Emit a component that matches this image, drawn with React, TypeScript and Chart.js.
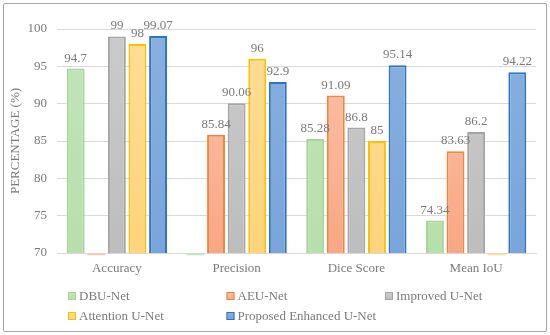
import React, { useEffect, useRef } from "react";
import { Chart, registerables } from "chart.js";

Chart.register(...registerables);

const categories = ["Accuracy", "Precision", "Dice Score", "Mean IoU"];
const seriesNames = ["DBU-Net", "AEU-Net", "Improved U-Net", "Attention U-Net", "Proposed Enhanced U-Net"];
const dbuNet = [94.7, 70, 85.28, 74.34];
const aeuNet = [70, 85.84, 91.09, 83.63];
const improvedUNet = [99, 90.06, 86.8, 86.2];
const attentionUNet = [98, 96, 85, 70];
const proposedUNet = [99.07, 92.9, 95.14, 94.22];
const yTicks = [70, 75, 80, 85, 90, 95, 100];

const FONT = "'Liberation Serif', 'Times New Roman', serif";
const TEXT = "#7a7a7a";

const styles = [
  { top: "#c3e5b9", bottom: "#b7dfab", border: "#a6d596" },
  { top: "#fcc4ac", bottom: "#f8a783", border: "#f4843c" },
  { top: "#cbcbcb", bottom: "#bdbdbd", border: "#a5a5a5" },
  { top: "#fedd96", bottom: "#fed47c", border: "#ffc000" },
  { top: "#88b0e0", bottom: "#7aa5da", border: "#2e75c6" },
];

const seriesValues = [dbuNet, aeuNet, improvedUNet, attentionUNet, proposedUNet];

const labelPlugin = {
  id: "valueLabels",
  afterDatasetsDraw(chart: any) {
    const ctx = chart.ctx;
    const yScale = chart.scales.y;
    ctx.save();
    ctx.font = `13px ${FONT}`;
    ctx.fillStyle = TEXT;
    ctx.textAlign = "center";
    ctx.textBaseline = "alphabetic";
    chart.data.datasets.forEach((ds: any, di: number) => {
      const meta = chart.getDatasetMeta(di);
      meta.data.forEach((bar: any, i: number) => {
        const v = ds.data[i];
        if (v <= yScale.min) {
          ctx.strokeStyle = styles[di].top;
          ctx.lineWidth = 1.5;
          ctx.beginPath();
          ctx.moveTo(bar.x - bar.width / 2, yScale.bottom + 1.5);
          ctx.lineTo(bar.x + bar.width / 2, yScale.bottom + 1.5);
          ctx.stroke();
          return;
        }
        ctx.fillText(String(v), bar.x, bar.y - 7);
      });
    });
    ctx.restore();
  },
};

const legendPlugin = {
  id: "gridLegend",
  afterDraw(chart: any) {
    const ctx = chart.ctx;
    const area = chart.chartArea;
    const colW = 158.5;
    const x0 = area.left + 11;
    const rows = [296, 316];
    ctx.save();
    ctx.font = `13px ${FONT}`;
    ctx.textBaseline = "middle";
    ctx.textAlign = "left";
    seriesNames.forEach((name, i) => {
      const col = i % 3;
      const row = Math.floor(i / 3);
      const x = x0 + col * colW;
      const y = rows[row];
      const g = ctx.createLinearGradient(0, y - 4, 0, y + 4);
      g.addColorStop(0, styles[i].top);
      g.addColorStop(1, styles[i].bottom);
      ctx.fillStyle = g;
      ctx.fillRect(x, y - 4, 8, 8);
      ctx.strokeStyle = styles[i].border;
      ctx.lineWidth = 1;
      ctx.strokeRect(x + 0.5, y - 3.5, 7, 7);
      ctx.fillStyle = TEXT;
      ctx.fillText(name, x + 11, y + 0.5);
    });
    ctx.restore();
  },
};

export default function App() {
  const ref = useRef<HTMLCanvasElement>(null);
  useEffect(() => {
    document.body.style.margin = "0";
    const canvas = ref.current!;
    const chart = new Chart(canvas, {
      type: "bar",
      data: {
        labels: categories,
        datasets: seriesNames.map((name, i) => ({
          label: name,
          data: seriesValues[i],
          backgroundColor: (c: any) => {
            const area = c.chart.chartArea;
            if (!area) return styles[i].top;
            const g = c.chart.ctx.createLinearGradient(0, area.top, 0, area.bottom);
            g.addColorStop(0, styles[i].top);
            g.addColorStop(1, styles[i].bottom);
            return g;
          },
          borderColor: styles[i].border,
          borderWidth: 2,
          borderSkipped: "start",
          categoryPercentage: 0.86,
          barPercentage: 0.87,
        })),
      },
      options: {
        animation: false,
        responsive: false,
        maintainAspectRatio: false,
        layout: { padding: { top: 29, right: 14, left: 0, bottom: 0 } },
        plugins: {
          legend: { display: false },
          tooltip: { enabled: false },
        },
        scales: {
          x: {
            grid: { display: false, drawTicks: false },
            border: { display: true, color: "#d9d9d9", width: 1 },
            ticks: { color: TEXT, font: { family: FONT, size: 13 }, padding: 8 },
            afterFit: (s: any) => {
              s.height = 82;
            },
          },
          y: {
            min: 70,
            max: 100,
            afterBuildTicks: (s: any) => {
              s.ticks = yTicks.map((v) => ({ value: v }));
            },
            grid: { color: "#d9d9d9", lineWidth: 1, drawTicks: false },
            border: { display: false },
            ticks: { color: TEXT, font: { family: FONT, size: 13 }, padding: 10 },
            title: {
              display: true,
              text: "PERCENTAGE (%)",
              color: TEXT,
              font: { family: FONT, size: 13 },
              padding: { top: 8, bottom: 0 },
            },
            afterFit: (s: any) => {
              s.width = 57;
            },
          },
        },
      },
      plugins: [labelPlugin, legendPlugin],
    });
    return () => chart.destroy();
  }, []);
  return (
    <div style={{ position: "relative", width: 550, height: 335 }}>
      <canvas ref={ref} width={550} height={335} style={{ display: "block", width: 550, height: 335 }} />
      <div
        style={{
          position: "absolute",
          left: 3,
          top: 3,
          width: 542,
          height: 327,
          border: "1px solid #a6a6a6",
          borderRadius: 2,
          pointerEvents: "none",
        }}
      />
    </div>
  );
}
